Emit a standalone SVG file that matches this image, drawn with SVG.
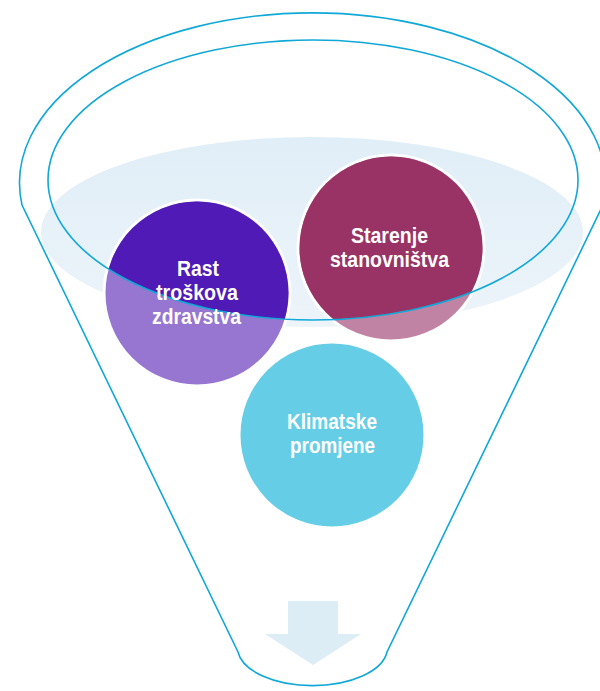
<svg xmlns="http://www.w3.org/2000/svg" width="600" height="691" viewBox="0 0 600 691">
<defs>
<style>
.line{fill:none;stroke:#10A8D8;stroke-width:1.6}
.circ{stroke:#FFFFFF;stroke-width:3}
.lbl{font-family:"Liberation Sans",Arial,sans-serif;font-weight:bold;font-size:22.5px;fill:#FFFFFF;text-anchor:middle}
</style>
<linearGradient id="liq" x1="0" y1="0" x2="0" y2="1">
<stop offset="0" stop-color="#E0EEF7"/>
<stop offset="1" stop-color="#EDF4FA"/>
</linearGradient>
<clipPath id="inner">
<ellipse cx="313" cy="180" rx="265" ry="140"/>
</clipPath>
</defs>
<g id="funnel">
<ellipse cx="312" cy="232" rx="271" ry="95" fill="url(#liq)"/>
<path class="line" d="M22,205 A293,170 0 1 1 603,205 L387,652 A75,38 0 0 1 238,652 Z"/>
</g>
<g id="connectors">
<path d="M288,601 H338 V634 H361 L313,665 L265,634 H288 Z" fill="#DDEDF5"/>
</g>
<g id="node-rast">
<circle class="circ" cx="197" cy="293" r="93" fill="#9676D0"/>
<circle cx="197" cy="293" r="91.5" fill="#4F1AB5" clip-path="url(#inner)"/>
</g>
<g id="node-starenje">
<circle class="circ" cx="391" cy="248" r="93" fill="#C083A3"/>
<circle cx="391" cy="248" r="91.5" fill="#993366" clip-path="url(#inner)"/>
</g>
<g id="node-klimatske">
<circle class="circ" cx="332" cy="435" r="93" fill="#66CDE6"/>
</g>
<g id="rim">
<ellipse class="line" cx="313" cy="180" rx="265" ry="140"/>
</g>
<g id="labels">
<text class="lbl"><tspan x="198" y="276" textLength="42" lengthAdjust="spacingAndGlyphs">Rast</tspan><tspan x="197" y="300" textLength="82" lengthAdjust="spacingAndGlyphs">troškova</tspan><tspan x="196.5" y="324" textLength="89" lengthAdjust="spacingAndGlyphs">zdravstva</tspan></text>
<text class="lbl"><tspan x="389.5" y="243" textLength="77" lengthAdjust="spacingAndGlyphs">Starenje</tspan><tspan x="389.5" y="267" textLength="119" lengthAdjust="spacingAndGlyphs">stanovništva</tspan></text>
<text class="lbl"><tspan x="332" y="429" textLength="90" lengthAdjust="spacingAndGlyphs">Klimatske</tspan><tspan x="332.5" y="453" textLength="85" lengthAdjust="spacingAndGlyphs">promjene</tspan></text>
</g>
</svg>
